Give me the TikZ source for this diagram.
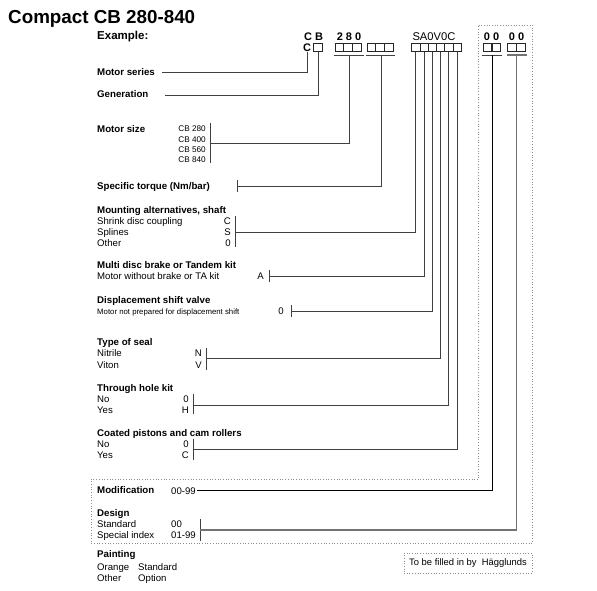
\documentclass[tikz,border=0pt]{standalone}
\usepackage{fontspec}
\setmainfont{Liberation Sans}
\begin{document}
\begin{tikzpicture}[x=1pt,y=-1pt,
  lab/.style={anchor=base west,inner sep=0pt,font=\fontsize{9.7}{11}\selectfont\bfseries},
  txt/.style={anchor=base west,inner sep=0pt,font=\fontsize{9.6}{11}\selectfont},
  code/.style={anchor=base east,inner sep=0pt,font=\fontsize{9.6}{11}\selectfont},
  small/.style={anchor=base west,inner sep=0pt,font=\fontsize{7.8}{9}\selectfont},
  smallr/.style={anchor=base east,inner sep=0pt,font=\fontsize{8.2}{9}\selectfont},
  big/.style={anchor=base,inner sep=0pt,font=\fontsize{11}{13}\selectfont\bfseries},
  bigr/.style={anchor=base,inner sep=0pt,font=\fontsize{11.2}{13}\selectfont},
  cell/.style={draw=black!85,line width=0.6pt,minimum width=8.5pt,minimum height=8pt,inner sep=0pt},
  conn/.style={draw=black!75,line width=0.9pt},
  tick/.style={draw=black!75,line width=0.9pt},
  dotline/.style={draw=black!45,line width=0.7pt,dotted}
]
\useasboundingbox (0,0) rectangle (597,590);

% title
\node[anchor=base west,inner sep=0pt,font=\fontsize{18.8}{20}\selectfont\bfseries] (title) at (8,23.5) {Compact CB 280-840};
\node[anchor=base west,inner sep=0pt,font=\fontsize{11.5}{13}\selectfont\bfseries] (example) at (97,39) {Example:};

% top row codes
\node[big] (cb) at (313.5,40) {C B};
\node[big] (n280) at (349,40) {2 8 0};
\node[bigr] (sa) at (434,40) {SA0V0C};
\node[big] (z1) at (491.5,40) {0 0};
\node[big] (z2) at (516.5,40) {0 0};

% second row
\node[big] (cc) at (307,51.5) {C};
\node[cell] (gbox) at (318,47.5) {};
\foreach \i/\x in {1/339.3,2/348,3/356.7} \node[cell] (a\i) at (\x,47.5) {};
\foreach \i/\x in {1/371.3,2/380,3/388.7} \node[cell] (b\i) at (\x,47.5) {};
\foreach \i/\x in {1/415.65,2/423.95,3/432.25,4/440.55,5/448.85,6/457.15} \node[cell,minimum width=8.3pt] (s\i) at (\x,47.5) {};
\node[cell] (p1) at (487.5,47.5) {};
\node[cell] (p2) at (496.5,47.5) {};
\node[cell] (q1) at (512,47.5) {};
\node[cell] (q2) at (521,47.5) {};

% underlines
\draw[conn] (333.5,55) -- (364,55);
\draw[conn] (366,55) -- (395,55);
\draw[conn] (482,55) -- (502,55);
\draw[draw=black!55,line width=1.3pt] (507,55) -- (526.5,55);
\coordinate (u280) at (349,55);
\coordinate (utq) at (381,55);
\coordinate (umod) at (492,55);
\coordinate (udes) at (516.5,55);

% dotted frame
\draw[dotline] (478.5,25) -- (532.5,25) -- (532.5,543) -- (91,543) -- (91,479) -- (478.5,479) -- cycle;

% motor series / generation
\node[lab] (ms) at (97,75.5) {Motor series};
\coordinate (msend) at (162,72);
\draw[conn] (msend) -| (cc.south);
\node[lab] (gen) at (97,97.5) {Generation};
\coordinate (genend) at (165,95);
\draw[conn] (genend) -| (gbox.south);

% motor size
\node[lab] (msize) at (97,132.5) {Motor size};
\foreach \t/\y in {CB 280/128,CB 400/139,CB 560/149,CB 840/159}
  \node[smallr] at (206,\y+3) {\t};
\draw[tick] (210,123) -- (210,163);
\coordinate (kmsize) at (210,143);
\draw[conn] (kmsize) -| (u280);

% specific torque
\node[lab] (torque) at (97,189.5) {Specific torque (Nm/bar)};
\draw[tick] (237,180) -- (237,192);
\coordinate (ktorque) at (237,186);
\draw[conn] (ktorque) -| (utq);

% mounting
\node[lab] (mount) at (97,213.5) {Mounting alternatives, shaft};
\node[txt] at (97,224.5) {Shrink disc coupling};
\node[txt] at (97,235.5) {Splines};
\node[txt] at (97,246.5) {Other};
\node[code] at (231,224.5) {C};
\node[code] at (231,235.5) {S};
\node[code] at (231,246.5) {0};
\draw[tick] (235,216) -- (235,247);
\coordinate (kmount) at (235,232);
\draw[conn] (kmount) -| (s1.south);

% multi disc brake
\node[lab] (brake) at (97,268.5) {Multi disc brake or Tandem kit};
\node[txt] at (97,279.5) {Motor without brake or TA kit};
\node[code] at (264,279.5) {A};
\draw[tick] (269,270) -- (269,282);
\coordinate (kbrake) at (269,276);
\draw[conn] (kbrake) -| (s2.south);

% displacement
\node[lab] (disp) at (97,303.5) {Displacement shift valve};
\node[small] at (97,314) {Motor not prepared for displacement shift};
\node[code] at (284,314.5) {0};
\draw[tick] (291,305) -- (291,317);
\coordinate (kdisp) at (291,311);
\draw[conn] (kdisp) -| (s3.south);

% seal
\node[lab] (seal) at (97,345.5) {Type of seal};
\node[txt] at (97,356.5) {Nitrile};
\node[txt] at (97,368.5) {Viton};
\node[code] at (202,356.5) {N};
\node[code] at (202,368.5) {V};
\draw[tick] (206,348) -- (206,370);
\coordinate (kseal) at (206,358);
\draw[conn] (kseal) -| (s4.south);

% through hole
\node[lab] (hole) at (97,391.5) {Through hole kit};
\node[txt] at (97,402.5) {No};
\node[txt] at (97,413.5) {Yes};
\node[code] at (189,402.5) {0};
\node[code] at (189,413.5) {H};
\draw[tick] (193,394) -- (193,414);
\coordinate (khole) at (193,405);
\draw[conn] (khole) -| (s5.south);

% coated
\node[lab] (coat) at (97,436.5) {Coated pistons and  cam rollers};
\node[txt] at (97,447.5) {No};
\node[txt] at (97,458.5) {Yes};
\node[code] at (189,447.5) {0};
\node[code] at (189,458.5) {C};
\draw[tick] (193,439) -- (193,460);
\coordinate (kcoat) at (193,449);
\draw[conn] (kcoat) -| (s6.south);

% modification
\node[lab] (mod) at (97,493) {Modification};
\node[txt] (m099) at (171,494) {00-99};
\coordinate (kmod) at (197,490.5);
\draw[conn,draw=black] (kmod) -| (umod);

% design
\node[lab] (design) at (97,516.5) {Design};
\node[txt] at (97,527.5) {Standard};
\node[txt] at (97,538.5) {Special index};
\node[txt] at (171,527.5) {00};
\node[txt] at (171,538.5) {01-99};
\draw[tick] (200,519) -- (200,541);
\coordinate (kdes) at (200,530);
\draw[conn,draw=black!55,line width=1.3pt] (kdes) -| (udes);

% painting
\node[lab] (paint) at (97,557.5) {Painting};
\node[txt] at (97,570.5) {Orange};
\node[txt] at (138,570.5) {Standard};
\node[txt] at (97,581.5) {Other};
\node[txt] at (138,581.5) {Option};

% filled in box
\node[draw=black!45,line width=0.7pt,dotted,minimum width=128pt,minimum height=20pt,inner sep=0pt,
  font=\fontsize{9.4}{11}\selectfont] (filled) at (468,563) {To be filled in by\ \ Hägglunds};
\end{tikzpicture}
\end{document}
